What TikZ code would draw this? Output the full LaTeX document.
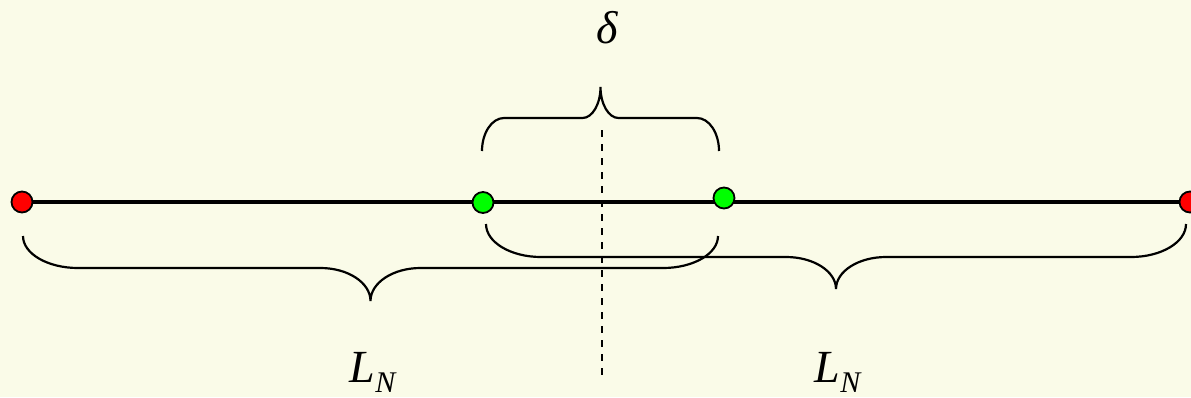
\documentclass[tikz,border=0pt]{standalone}
\usepackage{fontspec}
\setmainfont{Liberation Serif}
\usetikzlibrary{backgrounds}
\definecolor{bgc}{RGB}{250,251,232}
\definecolor{dotgreen}{RGB}{0,255,0}
\definecolor{dotred}{RGB}{255,0,0}
\tikzset{
  dot/.style={circle, draw=black, line width=1.8pt, minimum size=21pt, inner sep=0pt},
  reddot/.style={dot, fill=dotred},
  greendot/.style={dot, fill=dotgreen},
  mainline/.style={line width=4.5pt},
  bracepath/.style={line width=2.2pt},
  midline/.style={line width=2.2pt, dash pattern=on 7pt off 7pt},
  lbl/.style={font=\fontsize{46}{54}\selectfont\itshape, inner sep=0pt, anchor=base},
}
\newcommand{\lnlabel}{L\raisebox{-10.5pt}{\fontsize{30}{36}\selectfont N}}
\begin{document}
\begin{tikzpicture}[x=1pt, y=-1pt]
\useasboundingbox (0,0) rectangle (1191,397);
% points on the line
\node[reddot]   (r1) at (22,202) {};
\node[greendot] (g1) at (483,202.5) {};
\node[greendot] (g2) at (724,198) {};
\node[reddot]   (r2) at (1190,202) {};
\begin{pgfonlayer}{background}
  \fill[bgc] (0,0) rectangle (1191,397);
  \draw[mainline] (r1.center) -- (r2.center);
\end{pgfonlayer}
% dashed middle line
\coordinate (dtop) at (602,130);
\coordinate (dbot) at (602,375);
\draw[midline] (dtop) -- (dbot);
% top brace (delta)
\draw[bracepath] (482,151) .. controls (482,132.8) and (491.9,118) .. (504,118)
  -- (582.5,118) .. controls (592.4,118) and (600.5,104.1) .. (600.5,87)
  .. controls (600.5,104.1) and (608.6,118) .. (618.5,118)
  -- (697,118) .. controls (709.1,118) and (719,132.8) .. (719,151);
% left bottom brace
\draw[bracepath] (23,236) .. controls (23,253.7) and (47.6,268) .. (78,268)
  -- (320.5,268) .. controls (348.1,268) and (370.5,282.8) .. (370.5,301)
  .. controls (370.5,282.8) and (392.9,268) .. (420.5,268)
  -- (663,268) .. controls (693.4,268) and (718,253.7) .. (718,236);
% right bottom brace
\draw[bracepath] (486,224) .. controls (486,242.2) and (510.6,257) .. (541,257)
  -- (786,257) .. controls (813.6,257) and (836,271.3) .. (836,289)
  .. controls (836,271.3) and (858.4,257) .. (886,257)
  -- (1131,257) .. controls (1161.4,257) and (1186,242.2) .. (1186,224);
% labels
\node[lbl] (delta) at (607,43) {δ};
\node[lbl] (ln1) at (372.5,382) {\lnlabel};
\node[lbl] (ln2) at (837.5,382) {\lnlabel};
\end{tikzpicture}
\end{document}
